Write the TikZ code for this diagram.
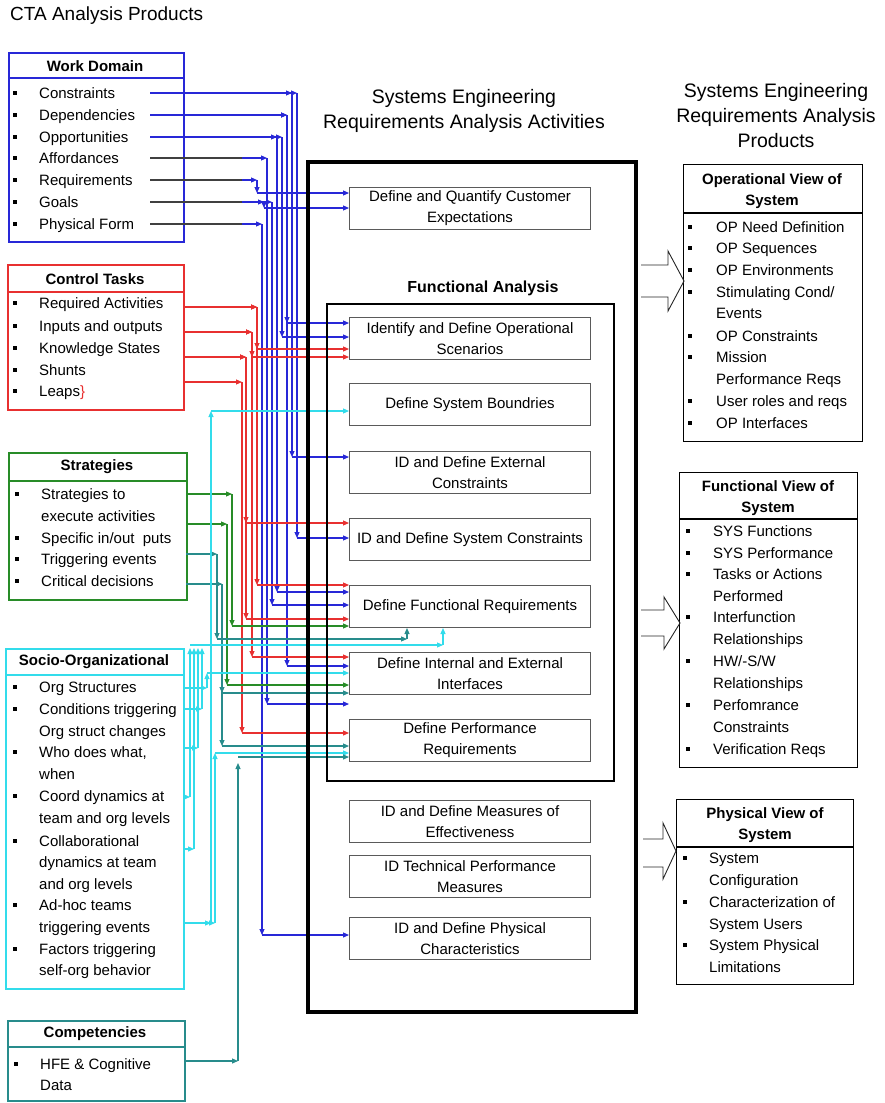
\documentclass[tikz,border=0pt]{standalone}
\usepackage{fontspec}
\setmainfont{Liberation Sans}
\usetikzlibrary{arrows.meta}
\definecolor{wdblue}{RGB}{40,40,215}
\definecolor{ctred}{RGB}{232,48,48}
\definecolor{stgreen}{RGB}{40,140,40}
\definecolor{tealc}{RGB}{40,140,140}
\definecolor{cyanc}{RGB}{50,220,235}
\definecolor{boxgray}{RGB}{90,90,90}
\newcommand\bitm[5]{\node[bul] at (#1,#3) {}; \node[item] (#5) at (#2,#3) {#4};}
\newcommand\citm[4]{\node[item] (#4) at (#1,#2) {#3};}
\newcommand\cnx[5]{%
  \path #2 coordinate (cS);
  \draw[#1] (cS) -- (cS -| #3,0);
  \draw[#1] (cS -| #3,0) -- (#3,#4);
  \draw[#1] (#3,#4) -- (#5.west |- 0,#4);
}
\begin{document}
\begin{tikzpicture}[x=1pt,y=-1pt,
  arw/.style={-{Triangle[length=6pt,width=5pt]}},
  cw/.style={line width=1.1pt, arw},
  bl/.style={cw, draw=wdblue},
  rd/.style={cw, draw=ctred},
  gr/.style={cw, draw=stgreen},
  tl/.style={cw, draw=tealc},
  cy/.style={cw, draw=cyanc},
  item/.style={anchor=west, inner sep=0pt, font=\fontsize{15}{18}\selectfont, text height=12pt, text depth=2pt},
  bul/.style={fill=black, minimum size=4pt, inner sep=0pt},
  hdr/.style={font=\bfseries\fontsize{15}{21}\selectfont, align=center, inner sep=0pt},
  ttl/.style={font=\fontsize{19.5}{25}\selectfont, align=center, inner sep=0pt},
  lbox/.style={line width=1.6pt, anchor=north west, inner sep=0pt},
  rbox/.style={draw=black, line width=1.2pt, anchor=north west, inner sep=0pt},
  act/.style={draw=boxgray, line width=1pt, fill=white, anchor=north west, minimum width=241pt, minimum height=42pt, align=center, font=\fontsize{15}{21}\selectfont, inner sep=0pt},
  blk/.style={draw=black!85, line width=0.9pt},
  grayseg/.style={line width=1.1pt, draw=black!75}
]
\useasboundingbox (0,0) rectangle (884,1103);
\fill[white] (0,0) rectangle (884,1103);

% ---------- titles ----------
\node[anchor=west, font=\fontsize{19}{24}\selectfont, inner sep=0pt] (t1) at (10,16) {CTA Analysis Products};
\node[ttl] (t2) at (464,111) {Systems Engineering\\Requirements Analysis Activities};
\node[ttl] (t3) at (776,116) {Systems Engineering\\Requirements Analysis\\Products};

% ---------- left boxes ----------
\node[lbox, draw=wdblue, minimum width=175pt, minimum height=189pt] (wd) at (8,52) {};
\draw[wdblue, line width=1.6pt] (wd.west |- 0,78) -- (wd.east |- 0,78);
\node[hdr] (wdh) at (95,66) {Work Domain};
\bitm{15}{39}{93}{Constraints}{wd1}
\bitm{15}{39}{115}{Dependencies}{wd2}
\bitm{15}{39}{137}{Opportunities}{wd3}
\bitm{15}{39}{158}{Affordances}{wd4}
\bitm{15}{39}{180}{Requirements}{wd5}
\bitm{15}{39}{202}{Goals}{wd6}
\bitm{15}{39}{224}{Physical Form}{wd7}

\node[lbox, draw=ctred, minimum width=176pt, minimum height=145pt] (ct) at (7,264) {};
\draw[ctred, line width=1.6pt] (ct.west |- 0,292) -- (ct.east |- 0,292);
\node[hdr] (cth) at (95,279) {Control Tasks};
\bitm{15}{39}{303}{Required Activities}{ct1}
\bitm{15}{39}{326}{Inputs and outputs}{ct2}
\bitm{15}{39}{348}{Knowledge States}{ct3}
\bitm{15}{39}{370}{Shunts}{ct4}
\bitm{15}{39}{391}{Leaps{\color{ctred}\}}}{ct5}

\node[lbox, draw=stgreen, minimum width=178pt, minimum height=147pt] (st) at (8,452) {};
\draw[stgreen, line width=1.6pt] (st.west |- 0,481) -- (st.east |- 0,481);
\node[hdr] (sth) at (97,467) {Strategies};
\bitm{17}{41}{494}{Strategies to}{st1}
\citm{41}{516}{execute activities}{st1b}
\bitm{17}{41}{538}{Specific in/out\ \ puts}{st2}
\bitm{17}{41}{559}{Triggering events}{st3}
\bitm{17}{41}{581}{Critical decisions}{st4}

\node[lbox, draw=cyanc, minimum width=178pt, minimum height=340pt] (so) at (5,648) {};
\draw[cyanc, line width=1.6pt] (so.west |- 0,675) -- (so.east |- 0,675);
\node[hdr] (soh) at (94,662) {Socio-Organizational};
\bitm{15}{39}{687}{Org Structures}{so1}
\bitm{15}{39}{709}{Conditions triggering}{so2}
\citm{39}{731}{Org struct changes}{so2b}
\bitm{15}{39}{752}{Who does what,}{so3}
\citm{39}{774}{when}{so3b}
\bitm{15}{39}{796}{Coord dynamics at}{so4}
\citm{39}{818}{team and org levels}{so4b}
\bitm{15}{39}{841}{Collaborational}{so5}
\citm{39}{862}{dynamics at team}{so5b}
\citm{39}{884}{and org levels}{so5c}
\bitm{15}{39}{905}{Ad-hoc teams}{so6}
\citm{39}{927}{triggering events}{so6b}
\bitm{15}{39}{949}{Factors triggering}{so7}
\citm{39}{970}{self-org behavior}{so7b}

\node[lbox, draw=tealc, minimum width=177pt, minimum height=80pt] (co) at (7,1020) {};
\draw[tealc, line width=1.6pt] (co.west |- 0,1047) -- (co.east |- 0,1047);
\node[hdr] (coh) at (95,1034) {Competencies};
\bitm{16}{40}{1064}{HFE \& Cognitive}{co1}
\citm{40}{1085}{Data}{co1b}

% ---------- source points ----------
\coordinate (wdC) at (150,93);
\coordinate (wdD) at (150,115);
\coordinate (wdO) at (150,137);
\coordinate (wdA) at (150,158);
\coordinate (wdR) at (150,180);
\coordinate (wdG) at (150,202);
\coordinate (wdP) at (150,224);
\coordinate (ctA) at (183,307);
\coordinate (ctB) at (183,332);
\coordinate (ctC) at (183,357);
\coordinate (ctD) at (183,382);
\coordinate (stA) at (186,494);
\coordinate (stB) at (186,524);
\coordinate (stC) at (186,554);
\coordinate (stD) at (186,584);
\coordinate (soA) at (183,688);
\coordinate (soB) at (183,709);
\coordinate (soC) at (183,748);
\coordinate (soD) at (183,797);
\coordinate (soE) at (183,849);
\coordinate (soF) at (183,923);
\coordinate (coA) at (184,1061);

% ---------- activity boxes ----------
\node[act] (dq) at (349,187) {Define and Quantify Customer\\Expectations};
\node[act] (os) at (349,317) {Identify and Define Operational\\Scenarios};
\node[act] (sb) at (349,383) {Define System Boundries};
\node[act] (ec) at (349,451) {ID and Define External\\Constraints};
\node[act] (sc) at (349,518) {ID and Define System Constraints};
\node[act] (fr) at (349,585) {Define Functional Requirements};
\node[act] (ie) at (349,652) {Define Internal and External\\Interfaces};
\node[act] (pr) at (349,719) {Define Performance\\Requirements};
\node[act] (me) at (349,800) {ID and Define Measures of\\Effectiveness};
\node[act] (tp) at (349,855) {ID Technical Performance\\Measures};
\node[act] (pc) at (349,917) {ID and Define Physical\\Characteristics};

% ---------- connectors: work domain ----------
\cnx{bl}{(wdC)}{297}{538}{sc}
\cnx{bl}{(wdC)}{292}{457}{ec}
\cnx{bl}{(wdD)}{287}{323}{os}
\cnx{bl}{(wdD)}{287}{666}{ie}
\cnx{bl}{(wdO)}{282}{337}{os}
\cnx{bl}{(wdO)}{277}{592}{fr}
\cnx{bl}{(wdA)}{267}{704}{ie}
\cnx{bl}{(wdR)}{257}{193}{dq}
\cnx{bl}{(wdG)}{264}{208}{dq}
\cnx{bl}{(wdG)}{272}{605}{fr}
\cnx{bl}{(wdP)}{262}{935}{pc}
\draw[grayseg] (wdA) -- (wdA -| 242,0);
\draw[grayseg] (wdR) -- (wdR -| 242,0);
\draw[grayseg] (wdG) -- (wdG -| 242,0);
\draw[grayseg] (wdP) -- (wdP -| 242,0);
% ---------- control tasks ----------
\cnx{rd}{(ctA)}{257}{349}{os}
\cnx{rd}{(ctA)}{257}{585}{fr}
\cnx{rd}{(ctB)}{252}{357}{os}
\cnx{rd}{(ctB)}{252}{657}{ie}
\cnx{rd}{(ctC)}{246}{523}{sc}
\cnx{rd}{(ctC)}{246}{619}{fr}
\cnx{rd}{(ctD)}{242}{733}{pr}
% ---------- strategies ----------
\cnx{gr}{(stA)}{232}{626}{fr}
\cnx{gr}{(stB)}{227}{685}{ie}
\cnx{tl}{(stD)}{222}{693}{ie}
\cnx{tl}{(stD)}{222}{746}{pr}
\draw[tl] (stC) -- (stC -| 217,0);
\draw[tl] (217,554) -- (217,639);
\draw[tl] (217,639) -- (407,639);
\draw[tl] (407,639) -- (fr.south -| 407,0);
% ---------- socio-organizational ----------
\cnx{cy}{(soA)}{207}{673}{ie}
\cnx{cy}{(soF)}{211}{411}{sb}
\cnx{cy}{(soF)}{215}{753}{pr}
\draw[cy] (soB) -- (soB -| 202,0);
\draw[cy] (202,709) -- (202,648);
\draw[cy] (soC) -- (soC -| 198,0);
\draw[cy] (198,748) -- (198,648);
\draw[cy] (soD) -- (soD -| 190,0);
\draw[cy] (190,797) -- (190,648);
\draw[cy] (soE) -- (soE -| 194,0);
\draw[cy] (194,849) -- (194,648);
\draw[cy] (190,645) -- (443,645);
\draw[cy] (443,645) -- (fr.south -| 443,0);
% ---------- competencies ----------
\draw[tl] (coA) -- (coA -| 238,0);
\draw[tl] (238,1061) -- (238,763);
\draw[tl] (238,757) -- (pr.west |- 0,757);

% ---------- frames ----------
\node[draw=black, line width=4pt, anchor=north west, minimum width=328pt, minimum height=850pt, inner sep=0pt] (frame) at (306,160) {};
\node[draw=black, line width=1.8pt, anchor=north west, minimum width=287pt, minimum height=477pt, inner sep=0pt] (fa) at (326,303) {};
\node[font=\bfseries\fontsize{16}{19}\selectfont, inner sep=0pt] (fal) at (483,288) {Functional Analysis};

% ---------- right boxes ----------
\node[rbox, minimum width=179pt, minimum height=277pt] (op) at (683,164) {};
\draw[black, line width=1.2pt] (op.west |- 0,213) -- (op.east |- 0,213);
\node[hdr] (oph) at (772,191.5) {Operational View of\\System};
\bitm{690}{716}{227}{OP Need Definition}{op1}
\bitm{690}{716}{248}{OP Sequences}{op2}
\bitm{690}{716}{270}{OP Environments}{op3}
\bitm{690}{716}{292}{Stimulating Cond/}{op4}
\citm{716}{313}{Events}{op4b}
\bitm{690}{716}{336}{OP Constraints}{op5}
\bitm{690}{716}{357}{Mission}{op6}
\citm{716}{379}{Performance Reqs}{op6b}
\bitm{690}{716}{401}{User roles and reqs}{op7}
\bitm{690}{716}{423}{OP Interfaces}{op8}

\node[rbox, minimum width=178pt, minimum height=295pt] (fv) at (679,472) {};
\draw[black, line width=1.2pt] (fv.west |- 0,519) -- (fv.east |- 0,519);
\node[hdr] (fvh) at (768,498) {Functional View of\\System};
\bitm{688}{713}{531}{SYS Functions}{fv1}
\bitm{688}{713}{553}{SYS Performance}{fv2}
\bitm{688}{713}{574}{Tasks or Actions}{fv3}
\citm{713}{596}{Performed}{fv3b}
\bitm{688}{713}{617}{Interfunction}{fv4}
\citm{713}{639}{Relationships}{fv4b}
\bitm{688}{713}{661}{HW/-S/W}{fv5}
\citm{713}{683}{Relationships}{fv5b}
\bitm{688}{713}{705}{Perfomrance}{fv6}
\citm{713}{727}{Constraints}{fv6b}
\bitm{688}{713}{749}{Verification Reqs}{fv7}

\node[rbox, minimum width=177pt, minimum height=185pt] (pv) at (676,799) {};
\draw[black, line width=1.2pt] (pv.west |- 0,847) -- (pv.east |- 0,847);
\node[hdr] (pvh) at (765,825) {Physical View of\\System};
\bitm{685}{709}{858}{System}{pv1}
\citm{709}{880}{Configuration}{pv1b}
\bitm{685}{709}{902}{Characterization of}{pv2}
\citm{709}{924}{System Users}{pv2b}
\bitm{685}{709}{945}{System Physical}{pv3}
\citm{709}{967}{Limitations}{pv3b}

% ---------- block arrows ----------
\draw[blk] (641,265) -- (668,265) -- (668,251) -- (684,281) -- (668,311) -- (668,297) -- (641,297);
\draw[blk] (641,610) -- (664,610) -- (664,597) -- (680,623) -- (664,649) -- (664,636) -- (641,636);
\draw[blk] (643,839) -- (663,839) -- (663,823) -- (676,851) -- (663,879) -- (663,867) -- (643,867);
\end{tikzpicture}
\end{document}
